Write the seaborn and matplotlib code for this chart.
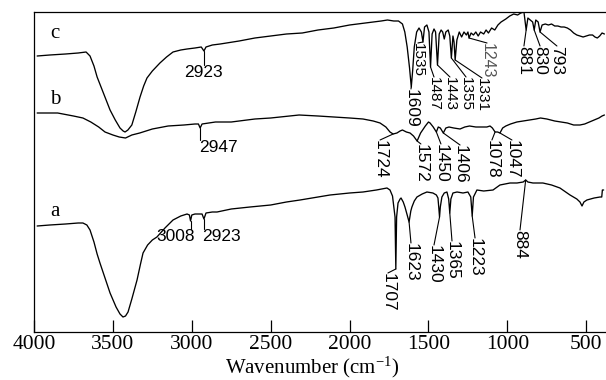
import numpy as np
import pandas as pd
import matplotlib
matplotlib.use("Agg")
import matplotlib.pyplot as plt
import seaborn as sns

# ---- FTIR spectra: wavenumber (cm-1) and transmittance (a.u., curves offset) ----
wn_c = [3980, 3900, 3800, 3720, 3670, 3645, 3620, 3600, 3560, 3518, 3485, 3455, 3435, 3423,
        3405, 3380, 3355, 3328, 3305, 3284, 3250, 3202, 3160, 3119, 3070, 3030, 2980, 2940,
        2923, 2910, 2870, 2820, 2700, 2600, 2500, 2400, 2300, 2200, 2100, 2000, 1900, 1800,
        1760, 1720, 1690, 1665, 1650, 1635, 1620, 1609, 1600, 1590, 1575, 1560, 1545, 1535,
        1525, 1510, 1497, 1487, 1477, 1465, 1455, 1443, 1432, 1420, 1410, 1400, 1390, 1375,
        1365, 1355, 1345, 1338, 1331, 1320, 1305, 1290, 1275, 1260, 1250, 1243, 1230, 1215,
        1200, 1185, 1170, 1150, 1135, 1120, 1100, 1080, 1060, 1040, 1010, 985, 960, 935, 915,
        895, 881, 870, 855, 840, 830, 820, 805, 793, 780, 760, 740, 720, 700, 680, 660, 640,
        620, 600, 580, 560, 540, 520, 500, 480, 460, 445, 430, 415, 400, 385]
tr_c = [276, 277, 278, 279, 280, 276, 266, 255, 239, 222, 212, 204, 201, 200,
        202, 207, 220, 235, 246, 254, 261, 269, 275, 280, 282, 283, 284, 285,
        281, 285, 287, 288, 291, 294, 296, 298, 299, 302, 304, 307, 309, 311,
        312, 311, 311, 308, 300, 285, 264, 245, 262, 285, 300, 304, 300, 290,
        305, 307, 300, 265, 298, 303, 300, 267, 298, 302, 300, 293, 300, 302,
        296, 274, 296, 290, 272, 292, 300, 295, 300, 297, 300, 294, 299, 297,
        300, 296, 300, 298, 302, 299, 304, 302, 307, 310, 313, 316, 318, 317, 319,
        320, 302, 314, 312, 310, 302, 312, 310, 300, 307, 308, 307, 308, 306, 306, 305, 305,
        304, 302, 299, 297, 296, 295, 296, 297, 297, 295, 294, 296, 299, 298]

wn_b = [3980, 3900, 3850, 3750, 3690, 3640, 3590, 3550, 3500, 3460, 3420, 3380, 3330, 3250,
        3150, 3050, 2980, 2958, 2947, 2935, 2850, 2750, 2600, 2500, 2320, 2200, 2100, 2000,
        1915, 1850, 1807, 1770, 1744, 1724, 1700, 1680, 1665, 1640, 1617, 1595, 1572, 1550,
        1520, 1500, 1490, 1470, 1450, 1438, 1425, 1406, 1390, 1370, 1340, 1300, 1270, 1240,
        1200, 1160, 1130, 1110, 1095, 1078, 1062, 1047, 1030, 1010, 980, 940, 900, 860, 820,
        790, 750, 700, 660, 620, 580, 540, 510, 480, 450, 420, 400, 385]
tr_b = [219, 219, 219, 216, 214, 210, 205, 200, 197, 195, 194, 197, 199, 203,
        206, 207, 208, 208, 204, 208, 210, 210, 213, 214, 217, 216, 215, 214,
        213, 211, 209, 205, 200, 198, 199, 201, 202, 200, 199, 196, 191, 199,
        206, 210, 209, 205, 200, 205, 204, 199, 204, 205, 204, 203, 205, 206,
        205, 205, 205, 206, 204, 200, 200, 199, 204, 206, 208, 210, 211, 212, 213,
        214, 213, 211, 210, 209, 207, 207, 208, 210, 212, 214, 216, 217]

wn_a = [3980, 3900, 3800, 3720, 3690, 3665, 3645, 3620, 3600, 3582, 3550, 3518, 3480, 3455,
        3436, 3420, 3404, 3380, 3347, 3325, 3309, 3280, 3250, 3221, 3170, 3119, 3070, 3030,
        3015, 3008, 3000, 2980, 2948, 2935, 2923, 2910, 2870, 2840, 2750, 2631, 2500, 2400,
        2314, 2200, 2124, 2000, 1915, 1830, 1763, 1744, 1728, 1712, 1707, 1702, 1693, 1680,
        1674, 1660, 1649, 1635, 1623, 1612, 1605, 1590, 1573, 1540, 1510, 1472, 1450, 1440,
        1435, 1430, 1425, 1415, 1400, 1383, 1372, 1365, 1358, 1345, 1319, 1281, 1250, 1232,
        1223, 1215, 1193, 1150, 1091, 1047, 983, 939, 900, 884, 870, 838, 775, 720, 667,
        603, 560, 540, 527, 515, 496, 450, 413, 402, 398, 390]
tr_a = [106, 107, 108, 109, 109, 107, 102, 90, 78, 69, 54, 39, 25, 18,
        15, 16, 20, 33, 52, 68, 79, 87, 92, 95, 104, 112, 116, 118,
        117, 111, 117, 118, 118, 118, 113, 119, 120, 120, 123, 125, 127, 130,
        132, 135, 137, 139, 140, 142, 144, 142, 136, 115, 63, 115, 129, 133,
        134, 130, 125, 117, 110, 121, 125, 131, 135, 138, 140, 139, 137, 134,
        125, 115, 125, 135, 139, 140, 133, 119, 133, 139, 140, 139, 140, 135,
        116, 135, 142, 141, 142, 147, 149, 149, 150, 152, 150, 149, 149, 147, 144,
        137, 133, 130, 126, 130, 132, 134, 135, 135, 142, 142]

curve_names = ["a", "b", "c"]

# Assigned band positions (cm-1) for each sample
peaks_a = [3008, 2923, 1707, 1623, 1430, 1365, 1223, 884]
peaks_b = [2947, 1724, 1572, 1450, 1406, 1078, 1047]
peaks_c = [2923, 1609, 1535, 1487, 1443, 1355, 1331, 1243, 881, 830, 793]

x_ticks = [4000, 3500, 3000, 2500, 2000, 1500, 1000, 500]
x_label = "Wavenumber (cm$^{\\mathregular{-1}}$)"

# ---- label layout: (text x, text top, rotated?, font size) per band ----
layout_a = [(3100, 103, False, 12.5), (2815, 103, False, 12.5), (1757, 59, True, 12.5),
            (1611, 89, True, 12.5), (1465, 87, True, 12.5), (1351, 91, True, 12.5),
            (1205, 94, True, 12.5), (920, 102, True, 12.5)]
layout_b = [(2828, 192, False, 12.5), (1807, 192, True, 12.5), (1548, 188, True, 12.5),
            (1421, 188, True, 12.5), (1300, 187, True, 12.5), (1098, 192, True, 12.5),
            (971, 192, True, 12.5)]
layout_c = [(2929, 267, False, 12.5), (1611, 243, True, 12.5), (1567, 289, True, 11),
            (1465, 255, True, 11), (1364, 255, True, 11), (1262, 255, True, 11),
            (1161, 254, True, 11), (1129, 289, True, 11.5),
            (895, 286, True, 12.5), (793, 286, True, 12.5), (686, 286, True, 12.5)]

# ---- styling ----
sns.set_theme(style="white")
serif = "Liberation Serif"
peak_font = "Liberation Sans"
plt.rcParams["font.family"] = [serif, "DejaVu Serif"]
plt.rcParams["mathtext.fontset"] = "custom"
plt.rcParams["mathtext.rm"] = serif
plt.rcParams["mathtext.it"] = serif

frames = []
for name, w, t in (("a", wn_a, tr_a), ("b", wn_b, tr_b), ("c", wn_c, tr_c)):
    frames.append(pd.DataFrame({"wavenumber": w, "T": t, "sample": name}))
df = pd.concat(frames, ignore_index=True)

W, H = 606, 380
fig = plt.figure(figsize=(W / 100, H / 100), dpi=100)
ax = fig.add_axes([34 / W, 48 / H, 572 / W, 320 / H])

for name in curve_names:
    sub = df[df["sample"] == name]
    sns.lineplot(data=sub, x="wavenumber", y="T", sort=False, estimator=None,
                 color="black", lw=0.95, ax=ax, legend=False)

ax.set_xlim(4000, 375)
ax.set_ylim(0, 320)

for sp in ("left", "bottom", "top"):
    ax.spines[sp].set_visible(True)
    ax.spines[sp].set_color("black")
    ax.spines[sp].set_linewidth(0.9)
ax.spines["right"].set_visible(False)

ax.set_xticks(x_ticks)
ax.set_xticklabels([str(v) for v in x_ticks])
ax.set_yticks([])
ax.tick_params(axis="x", direction="in", length=9, width=0.9, pad=2,
               labelsize=15.5, colors="black", bottom=True, top=False)
ax.set_xlabel(x_label, fontsize=15, color="black")
ax.xaxis.set_label_coords(0.486, -0.07)
ax.set_ylabel("")

# sample letters
for name, v in (("c", 299), ("b", 233), ("a", 120)):
    ax.text(3867, v, name, fontsize=15, ha="center", va="center", color="black")

# band labels with leader lines
def annotate(peaks, layout, w, t):
    wr, tr = np.asarray(w)[::-1], np.asarray(t)[::-1]
    for p, (tx, ty, rot, fs) in zip(peaks, layout):
        pv = float(np.interp(p, wr, tr))
        faint = p == 1243 and w is wn_c
        col = "#555555" if faint else "black"
        if rot:
            ax.plot([p, tx], [pv, ty], color="black", lw=0.8)
            ax.text(tx, ty, str(p), rotation=-90, ha="center", va="top",
                    family=peak_font, fontsize=fs, color=col)
        else:
            ax.plot([p, p], [pv, ty], color="black", lw=0.8)
            ax.text(tx, ty, str(p), ha="center", va="top",
                    family=peak_font, fontsize=fs, color=col)

annotate(peaks_a, layout_a, wn_a, tr_a)
annotate(peaks_b, layout_b, wn_b, tr_b)
annotate(peaks_c, layout_c, wn_c, tr_c)

fig.savefig("out.png", dpi=100)
